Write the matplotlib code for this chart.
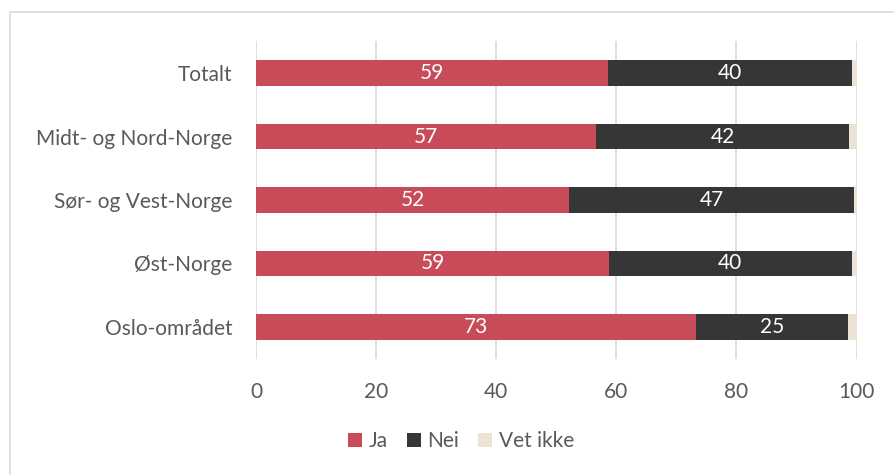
import matplotlib.pyplot as plt
from matplotlib.patches import Rectangle

categories = ['Oslo-området', 'Øst-Norge', 'Sør- og Vest-Norge', 'Midt- og Nord-Norge', 'Totalt']
ja = [73.3, 58.8, 52.2, 56.7, 58.7]
nei = [25.2, 40.4, 47.4, 42.1, 40.5]
vet_ikke = [1.5, 0.8, 0.4, 1.2, 0.8]
series_names = ['Ja', 'Nei', 'Vet ikke']
colors = ['#c84b5a', '#363636', '#ede3d5']

plt.rcParams['font.family'] = ['Lato', 'DejaVu Sans']
fs = 15

fig = plt.figure(figsize=(8.95, 4.75), dpi=100)
ax = fig.add_axes([0.286, 0.245, 0.671, 0.668])

y = range(len(categories))
left = [0] * len(categories)
for name, vals, col in zip(series_names, [ja, nei, vet_ikke], colors):
    bars = ax.barh(y, vals, left=left, height=0.4, color=col, label=name, zorder=3)
    if name != 'Vet ikke':
        for b, v in zip(bars, vals):
            ax.text(b.get_x() + b.get_width() / 2, b.get_y() + b.get_height() / 2,
                    f'{round(v)}', color='white', ha='center', va='center', fontsize=fs, zorder=4)
    left = [l + v for l, v in zip(left, vals)]

ax.set_xlim(0, 100)
ax.set_ylim(-0.5, 4.5)
ax.set_xticks([0, 20, 40, 60, 80, 100])
ax.set_yticks(list(y))
ax.set_yticklabels(categories)
ax.grid(axis='x', color='#d9d9d9', linewidth=1.2, zorder=0)
for s in ax.spines.values():
    s.set_visible(False)
ax.tick_params(axis='both', length=0, labelsize=fs, labelcolor='#595959')
ax.tick_params(axis='x', pad=17)
ax.tick_params(axis='y', pad=17)

fig.legend(loc='center', bbox_to_anchor=(0.515, 0.071), ncol=3, frameon=False,
           fontsize=fs, labelcolor='#595959', handlelength=0.7, handleheight=0.7,
           handletextpad=0.3, columnspacing=0.9)

fig.patches.append(Rectangle((0.011, -0.02), 1.0, 0.995, transform=fig.transFigure,
                             fill=False, edgecolor='#d9d9d9', linewidth=1.2))

fig.savefig('out.png', dpi=100)
